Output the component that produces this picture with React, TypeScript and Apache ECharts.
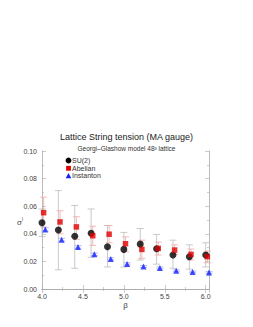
import React, { useEffect, useRef } from "react";
import * as echarts from "echarts";

const betas = [4.0, 4.2, 4.4, 4.6, 4.8, 5.0, 5.2, 5.4, 5.6, 5.8, 6.0];

const su2 = [0.048, 0.0428, 0.0382, 0.0404, 0.0306, 0.0287, 0.0325, 0.0292, 0.0246, 0.0234, 0.0246];
const su2Lo = [0.038, 0.0139, 0.015, 0.023, 0.016, 0.016, 0.021, 0.018, 0.015, 0.0144, 0.016];
const su2Hi = [0.058, 0.0713, 0.0605, 0.058, 0.046, 0.041, 0.0438, 0.0395, 0.0354, 0.032, 0.0335];

const abel = [0.0553, 0.0486, 0.0450, 0.0386, 0.0397, 0.0328, 0.0287, 0.0294, 0.0282, 0.0251, 0.0234];
const abelLo = [0.0449, 0.040, 0.036, 0.0316, 0.0335, 0.027, 0.0222, 0.0246, 0.025, 0.021, 0.019];
const abelHi = [0.0665, 0.0567, 0.0524, 0.0455, 0.046, 0.0378, 0.0354, 0.034, 0.032, 0.029, 0.0275];

const inst = [0.0432, 0.0357, 0.0305, 0.0251, 0.0218, 0.0182, 0.0163, 0.0153, 0.0132, 0.0124, 0.012];
const instErr = [0.0012, 0.001, 0.0009, 0.0009, 0.0008, 0.0008, 0.0007, 0.0007, 0.0007, 0.0006, 0.0006];

const abelShift = 0.02;
const instShift = 0.04;

const FONT = "Liberation Sans";

function errorSeries(data: number[][], color: string) {
  return {
    type: "custom",
    silent: true,
    z: 1,
    renderItem: (params: any, api: any) => {
      const x = api.value(0);
      const lo = api.coord([x, api.value(1)]);
      const hi = api.coord([x, api.value(2)]);
      const hw = 3.5;
      const style = { stroke: color, lineWidth: 0.8 };
      return {
        type: "group",
        children: [
          { type: "line", shape: { x1: lo[0], y1: lo[1], x2: hi[0], y2: hi[1] }, style },
          { type: "line", shape: { x1: lo[0] - hw, y1: lo[1], x2: lo[0] + hw, y2: lo[1] }, style },
          { type: "line", shape: { x1: hi[0] - hw, y1: hi[1], x2: hi[0] + hw, y2: hi[1] }, style },
        ],
      };
    },
    encode: { x: 0, y: [1, 2] },
    data,
  };
}

export default function App() {
  const ref = useRef<HTMLDivElement>(null);
  useEffect(() => {
    if (!ref.current) return;
    const chart = echarts.init(ref.current, null, { renderer: "svg" });
    const su2Err = betas.map((b, i) => [b, su2Lo[i], su2Hi[i]]);
    const abelErr = betas.map((b, i) => [b + abelShift, abelLo[i], abelHi[i]]);
    const instErrData = betas.map((b, i) => [b + instShift, inst[i] - instErr[i], inst[i] + instErr[i]]);

    const axisCommon = {
      axisLine: { show: true, lineStyle: { color: "#aaa", width: 0.8 } },
      axisTick: { show: true, inside: true, length: 4, lineStyle: { color: "#aaa", width: 0.6 } },
      minorTick: { show: true, splitNumber: 2, length: 2, lineStyle: { color: "#aaa", width: 0.6 } },
      splitLine: { show: false },
    };

    chart.setOption({
      animation: false,
      backgroundColor: "#fff",
      title: [
        {
          text: "Lattice String tension (MA gauge)",
          left: "center",
          top: 127,
          textStyle: { fontFamily: FONT, fontSize: 9, fontWeight: "normal", color: "#222" },
        },
        {
          text: "Georgi\u2013Glashow model 48\u00B3 lattice",
          left: "center",
          top: 140,
          textStyle: { fontFamily: FONT, fontSize: 6.5, fontWeight: "normal", color: "#333" },
        },
      ],
      grid: { left: 42, right: 44, top: 151, bottom: 38 },
      xAxis: [
        {
          type: "value",
          min: 4,
          max: 6.04,
          interval: 0.5,
          ...axisCommon,
          axisLabel: {
            fontFamily: FONT,
            fontSize: 7,
            color: "#444",
            margin: 4,
            showMaxLabel: false,
            formatter: (v: number) => v.toFixed(1),
          },
          name: "\u03B2",
          nameLocation: "middle",
          nameGap: 12,
          nameTextStyle: { fontFamily: FONT, fontSize: 8, color: "#444" },
        },
        {
          type: "value",
          position: "top",
          min: 4,
          max: 6.04,
          interval: 0.5,
          ...axisCommon,
          axisLabel: { show: false },
        },
      ],
      yAxis: [
        {
          type: "value",
          min: 0,
          max: 0.1,
          interval: 0.02,
          ...axisCommon,
          axisLabel: {
            fontFamily: FONT,
            fontSize: 7,
            color: "#444",
            margin: 5,
            formatter: (v: number) => v.toFixed(2),
          },
        },
        {
          type: "value",
          position: "right",
          min: 0,
          max: 0.1,
          interval: 0.02,
          ...axisCommon,
          axisLabel: { show: false },
        },
      ],
      graphic: [
        {
          type: "text",
          left: 17,
          top: 217,
          style: {
            text: "{a|\u03C3}{b|l}",
            rich: {
              a: { fontFamily: FONT, fontSize: 8, fill: "#444" },
              b: { fontFamily: FONT, fontSize: 4.5, fill: "#444", verticalAlign: "top", padding: [0, 0, 5, 0] },
            },
          },
        },
        { type: "circle", shape: { cx: 68.5, cy: 160.5, r: 2.9 }, style: { fill: "#000" } },
        { type: "rect", shape: { x: 66.1, y: 165.9, width: 4.8, height: 4.8 }, style: { fill: "#e00000" } },
        {
          type: "polygon",
          shape: { points: [[68.5, 173], [71.3, 178.2], [65.7, 178.2]] },
          style: { fill: "#1020ff" },
        },
        { type: "text", x: 72, y: 160.5, style: { text: "SU(2)", fontFamily: FONT, fontSize: 7, fill: "#333", verticalAlign: "middle" } },
        { type: "text", x: 72, y: 168.3, style: { text: "Abelian", fontFamily: FONT, fontSize: 7, fill: "#333", verticalAlign: "middle" } },
        { type: "text", x: 72, y: 175.8, style: { text: "Instanton", fontFamily: FONT, fontSize: 7, fill: "#333", verticalAlign: "middle" } },
      ],
      series: [
        errorSeries(su2Err, "#bdbdbd"),
        errorSeries(abelErr, "#f3a8a8"),
        errorSeries(instErrData, "#a8a8f5"),
        {
          name: "SU(2)",
          type: "scatter",
          symbol: "circle",
          symbolSize: 7,
          itemStyle: { color: "#000" },
          z: 3,
          data: betas.map((b, i) => [b, su2[i]]),
        },
        {
          name: "Abelian",
          type: "scatter",
          symbol: "rect",
          symbolSize: 5.5,
          itemStyle: { color: "#e00000" },
          z: 3,
          data: betas.map((b, i) => [b + abelShift, abel[i]]),
        },
        {
          name: "Instanton",
          type: "scatter",
          symbol: "triangle",
          symbolSize: 6,
          itemStyle: { color: "#1020ff" },
          z: 3,
          data: betas.map((b, i) => [b + instShift, inst[i]]),
        },
      ],
    });
    return () => chart.dispose();
  }, []);
  return <div ref={ref} style={{ width: 253, height: 327, position: "absolute", left: 0, top: 0 }} />;
}
